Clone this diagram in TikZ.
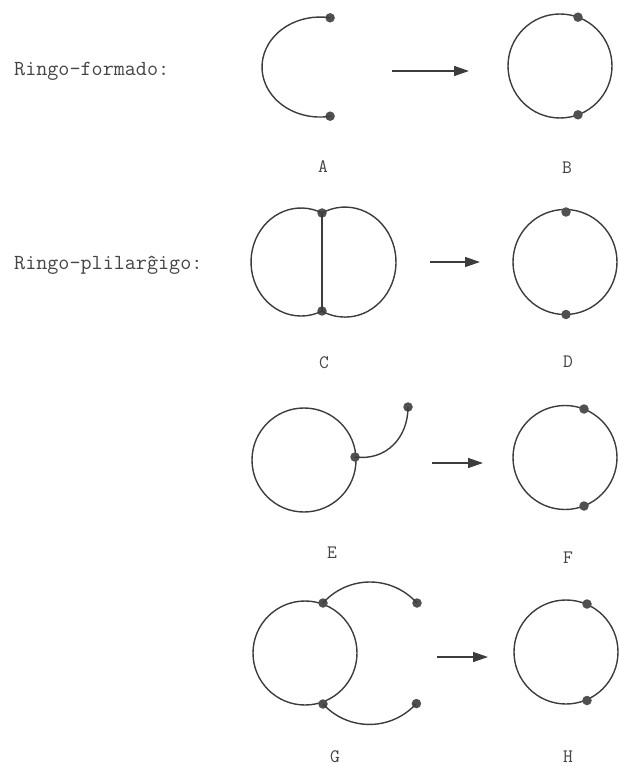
\documentclass[tikz,border=0pt]{standalone}
\usepackage{fontspec}
\usetikzlibrary{arrows.meta}
\definecolor{ink}{HTML}{3C3C3C}
\definecolor{dotc}{HTML}{505050}
\definecolor{txt}{HTML}{444444}
\tikzset{
  ln/.style={draw=ink, line width=1.4pt},
  dotn/.style={circle, fill=dotc, inner sep=0pt, minimum size=9.5pt},
  arr/.style={draw=ink, line width=1.4pt, -{Triangle[length=15pt,width=10pt]}},
  lab/.style={text=txt, font=\ttfamily\fontsize{19}{21}\selectfont, inner sep=0pt},
  head/.style={text=txt, font=\ttfamily\fontsize{21.5}{23}\selectfont, inner sep=0pt, anchor=west}
}
\begin{document}
\begin{tikzpicture}[x=1pt,y=-1pt]
\useasboundingbox (0,0) rectangle (618,767);
% ---------- headings
\node[head] (h1) at (14,71) {Ringo-formado:};
\node[head] (h2) at (14,265) {Ringo-plilarĝigo:};
% ---------- Row 1: A -> B
\node[dotn] (A1) at (330.1,17.8) {};
\node[dotn] (A2) at (330.1,116.2) {};
\draw[ln] (A1.center) arc[start angle=280, end angle=80, x radius=58, y radius=50];
\coordinate (a1s) at (392,71);
\coordinate (a1e) at (469,71);
\draw[arr] (a1s) -- (a1e);
\coordinate (Bc) at (560,66);
\draw[ln] (Bc) circle[radius=52];
\node[dotn] (B1) at (578,17.2) {};
\node[dotn] (B2) at (578,114.8) {};
\node[lab] (lA) at (323,167) {A};
\node[lab] (lB) at (567,168) {B};
% ---------- Row 2: C -> D
\node[dotn] (C1) at (322,213) {};
\node[dotn] (C2) at (322,311) {};
\draw[ln] (C1.center) arc[start angle=294.8, end angle=65.2, x radius=50, y radius=54];
\draw[ln] (C1.center) arc[start angle=243.2, end angle=476.8, x radius=51, y radius=55];
\draw[ln] (C1.center) -- (C2.center);
\coordinate (a2s) at (430,262);
\coordinate (a2e) at (480,262);
\draw[arr] (a2s) -- (a2e);
\coordinate (Dc) at (565,262);
\draw[ln] (Dc) circle[x radius=52, y radius=52.5];
\node[dotn] (D1) at (566,212) {};
\node[dotn] (D2) at (566,314.5) {};
\node[lab] (lC) at (324,363) {C};
\node[lab] (lD) at (568,362) {D};
% ---------- Row 3: E -> F
\coordinate (Ec) at (304,460);
\draw[ln] (Ec) circle[radius=52];
\node[dotn] (E1) at (355,457) {};
\node[dotn] (E2) at (408,407) {};
\draw[ln] (E1.center) .. controls (386,461) and (408,438) .. (E2.center);
\coordinate (a3s) at (432,463);
\coordinate (a3e) at (483,463);
\draw[arr] (a3s) -- (a3e);
\coordinate (Fc) at (565,457.5);
\draw[ln] (Fc) circle[radius=52];
\node[dotn] (F1) at (584,409) {};
\node[dotn] (F2) at (584,506) {};
\node[lab] (lE) at (332,553) {E};
\node[lab] (lF) at (568,558) {F};
% ---------- Row 4: G -> H
\coordinate (Gc) at (305,653);
\draw[ln] (Gc) circle[radius=52];
\node[dotn] (G1) at (323,603) {};
\node[dotn] (G2) at (323,704) {};
\node[dotn] (G3) at (417,603) {};
\node[dotn] (G4) at (416.4,703.6) {};
\draw[ln] (G1.center) arc[start angle=221.8, end angle=318.2, radius=63];
\draw[ln] (G2.center) arc[start angle=137.5, end angle=42.5, radius=63];
\coordinate (a4s) at (437,657);
\coordinate (a4e) at (488,657);
\draw[arr] (a4s) -- (a4e);
\coordinate (Hc) at (566,652);
\draw[ln] (Hc) circle[radius=52];
\node[dotn] (H1) at (587,604) {};
\node[dotn] (H2) at (587,700.5) {};
\node[lab] (lG) at (335,757) {G};
\node[lab] (lH) at (568,757) {H};
\end{tikzpicture}
\end{document}
